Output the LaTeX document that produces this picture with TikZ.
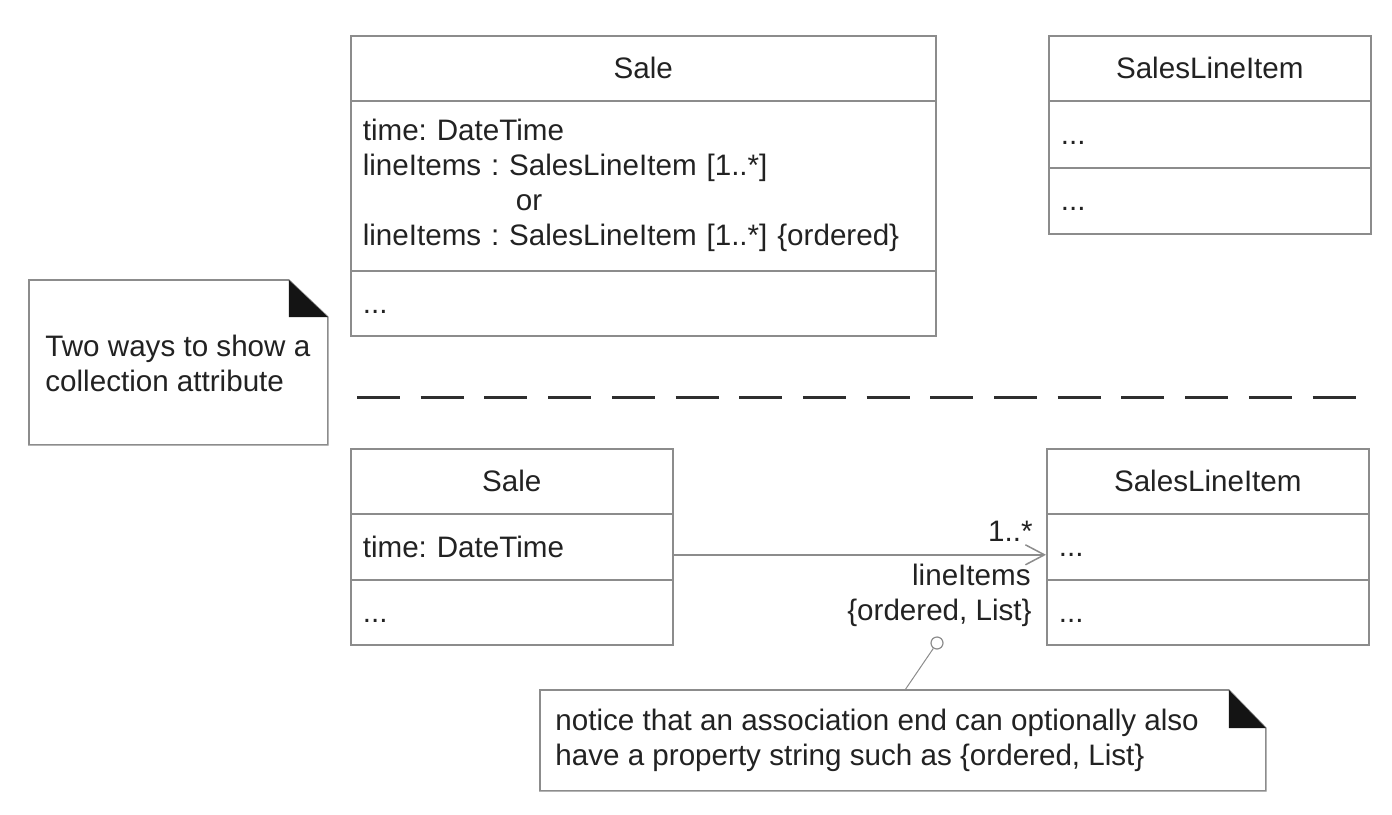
\documentclass[tikz,border=0pt]{standalone}
\usepackage{fontspec}
\setmainfont{Liberation Sans}
\frenchspacing
\usetikzlibrary{arrows.meta}
\newcommand\dfont{\fontsize{14.8}{17.5}\selectfont}
\definecolor{linegray}{HTML}{8C8C8C}
\definecolor{txt}{HTML}{222222}
\tikzset{
  comp/.style={draw=linegray, line width=0.8pt, anchor=north west, inner ysep=0pt,
     inner xsep=6pt, font=\dfont, text=txt},
  hdr/.style={comp, align=center},
  body/.style={comp, align=left},
  dots/.style={body, text height=10pt, text depth=0pt},
  lbl/.style={font=\dfont, text=txt, inner sep=0pt},
  noteshape/.style={draw=linegray, line width=0.8pt, fill=white},
  fold/.style={fill=black!92},
  assoc/.style={draw=linegray, line width=0.75pt},
}
\begin{document}
\begin{tikzpicture}[x=0.5pt,y=-0.5pt]
\useasboundingbox (0,0) rectangle (1392,814);

% ---------- Top Sale ----------
\node[hdr, minimum width=292.5pt, text width=280.5pt, minimum height=32.5pt] (saleH) at (350,35) {Sale};
\node[body, minimum width=292.5pt, text width=280.5pt, minimum height=85pt] (saleA) at (350,100)
  {time: DateTime\\lineItems : SalesLineItem [1..*]\\\hspace*{76.5pt}or\\lineItems : SalesLineItem [1..*] \{ordered\}};
\node[dots, minimum width=292.5pt, text width=280.5pt, minimum height=32.5pt] (saleO) at (350,270) {...};

% ---------- Top SalesLineItem ----------
\node[hdr, minimum width=161pt, text width=149pt, minimum height=32.5pt] (sliH) at (1048,35) {SalesLineItem};
\node[dots, minimum width=161pt, text width=149pt, minimum height=33.5pt] (sliA) at (1048,100) {...};
\node[dots, minimum width=161pt, text width=149pt, minimum height=33pt] (sliO) at (1048,167) {...};

% ---------- Left note ----------
\node[minimum width=149pt, minimum height=82pt, anchor=north west, inner sep=0pt] (noteA) at (29,280) {};
\draw[noteshape] (noteA.north west) -- ([xshift=-19.5pt]noteA.north east)
   -- ([yshift=-18.5pt]noteA.north east) -- (noteA.south east) -- (noteA.south west) -- cycle;
\fill[fold] ([xshift=-19.5pt]noteA.north east) -- ([xshift=-19.5pt,yshift=-18.5pt]noteA.north east)
   -- ([yshift=-18.5pt]noteA.north east) -- cycle;
\node[lbl, anchor=west, align=left] (noteAtxt) at ([xshift=8pt,yshift=-0.5pt]noteA.west)
   {Two ways to show a\\collection attribute};

% ---------- Separator ----------
\coordinate (sepL) at (357,397);
\coordinate (sepR) at (1356,397);
\draw[line width=1.5pt, draw=black!82, dash pattern=on 21.5pt off 10.35pt] (sepL) -- (sepR);

% ---------- Bottom Sale ----------
\node[hdr, minimum width=161pt, text width=149pt, minimum height=32.5pt] (sale2H) at (350,448) {Sale};
\node[body, minimum width=161pt, text width=149pt, minimum height=33pt] (sale2A) at (350,513) {time: DateTime};
\node[dots, minimum width=161pt, text width=149pt, minimum height=32.5pt] (sale2O) at (350,579) {...};

% ---------- Bottom SalesLineItem ----------
\node[hdr, minimum width=161pt, text width=149pt, minimum height=32.5pt] (sli2H) at (1046,448) {SalesLineItem};
\node[dots, minimum width=161pt, text width=149pt, minimum height=33pt] (sli2A) at (1046,513) {...};
\node[dots, minimum width=161pt, text width=149pt, minimum height=32.5pt] (sli2O) at (1046,579) {...};

% ---------- Association ----------
\draw[assoc, -{Straight Barb[length=9.5pt,width=10pt]}]
   ([yshift=-4pt]sale2A.east) -- ([yshift=-4pt]sli2A.west);
\node[lbl, anchor=base east] (mult) at (1033,541) {1..*};
\node[lbl, anchor=base east] (role) at (1031,585) {lineItems};
\node[lbl, anchor=base east] (prop) at (1032,620) {\{ordered, List\}};

% ---------- Bottom note ----------
\node[minimum width=362.5pt, minimum height=50pt, anchor=north west, inner sep=0pt] (noteB) at (540,690) {};
\draw[noteshape] (noteB.north west) -- ([xshift=-18.5pt]noteB.north east)
   -- ([yshift=-19pt]noteB.north east) -- (noteB.south east) -- (noteB.south west) -- cycle;
\fill[fold] ([xshift=-18.5pt]noteB.north east) -- ([xshift=-18.5pt,yshift=-19pt]noteB.north east)
   -- ([yshift=-19pt]noteB.north east) -- cycle;
\node[lbl, anchor=west, align=left] (noteBtxt) at ([xshift=7.5pt]noteB.west)
   {notice that an association end can optionally also\\have a property string such as \{ordered, List\}};

% ---------- Note anchor ----------
\node[circle, draw=linegray, line width=0.6pt, fill=white, minimum size=6pt, inner sep=0pt] (anch) at (937,643) {};
\coordinate (noteBtop) at (905,690);
\draw[draw=linegray, line width=0.5pt] (anch) -- (noteBtop);
\end{tikzpicture}
\end{document}
